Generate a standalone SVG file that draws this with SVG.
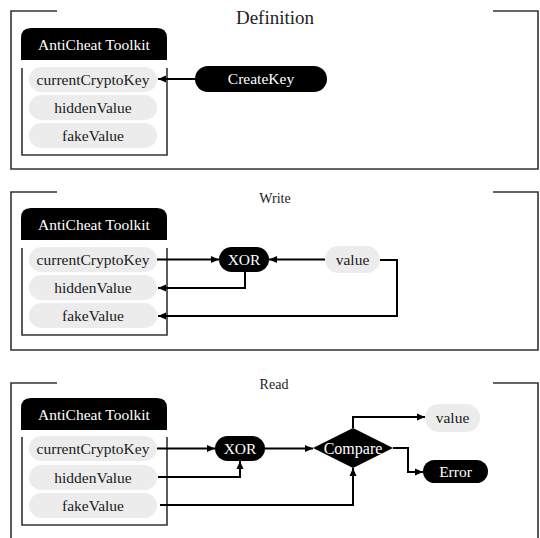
<svg xmlns="http://www.w3.org/2000/svg" width="540" height="538" viewBox="0 0 540 538" font-family="'Liberation Serif', 'Times New Roman', serif">
<defs>
<marker id="ah" markerUnits="userSpaceOnUse" markerWidth="9" markerHeight="9" refX="8" refY="4" orient="auto">
<path d="M0,0.5 L8,4 L0,7.5 z" fill="#000"/>
</marker>
<style>
.frame{fill:none;stroke:#333;stroke-width:1.6}
.bracket{fill:none;stroke:#333;stroke-width:1.6}
.hdr{fill:#000}
.pill{fill:#ececec}
.blk{fill:#000}
.lbl{font-family:'Liberation Serif','Times New Roman',serif;font-size:15.5px;text-anchor:middle;fill:#1a1a1a}
.w{fill:#fff}
.title{font-family:'Liberation Serif','Times New Roman',serif;text-anchor:middle;fill:#222}
.conn{fill:none;stroke:#000;stroke-width:2}
</style>
</defs>
<rect width="540" height="538" fill="#fff"/>

<!-- Section 1: Definition -->
<g id="frame-definition">
<path class="frame" d="M57,11 H11 V169 H538 V11 H493"/>
<text class="title" x="275" y="24" font-size="19">Definition</text>
</g>
<g id="toolkit1">
<path class="hdr" d="M21,60 V38 Q21,28 31,28 H157 Q167,28 167,38 V60 Z"/>
<text class="lbl w" x="94" y="49.5">AntiCheat Toolkit</text>
<path class="bracket" d="M22,68 V155 H167 V68"/>
</g>
<g id="d-currentCryptoKey"><rect class="pill" x="29" y="67" width="128" height="25" rx="12.5"/><text class="lbl" x="93" y="84.5">currentCryptoKey</text></g>
<g id="d-hiddenValue"><rect class="pill" x="29" y="95" width="128" height="25" rx="12.5"/><text class="lbl" x="93" y="112.5">hiddenValue</text></g>
<g id="d-fakeValue"><rect class="pill" x="29" y="123" width="128" height="25" rx="12.5"/><text class="lbl" x="93" y="140.5">fakeValue</text></g>
<g id="d-CreateKey"><rect class="blk" x="195" y="66" width="132" height="26" rx="13"/><text class="lbl w" x="261" y="84">CreateKey</text></g>

<!-- Section 2: Write -->
<g id="frame-write">
<path class="frame" d="M57,192 H11 V350 H538 V192 H493"/>
<text class="title" x="275" y="203" font-size="14">Write</text>
</g>
<g id="toolkit2">
<path class="hdr" d="M21,240 V218 Q21,208 31,208 H157 Q167,208 167,218 V240 Z"/>
<text class="lbl w" x="94" y="229.5">AntiCheat Toolkit</text>
<path class="bracket" d="M22,248 V335 H167 V248"/>
</g>
<g id="w-currentCryptoKey"><rect class="pill" x="29" y="247" width="128" height="25" rx="12.5"/><text class="lbl" x="93" y="264.5">currentCryptoKey</text></g>
<g id="w-hiddenValue"><rect class="pill" x="29" y="275" width="128" height="25" rx="12.5"/><text class="lbl" x="93" y="292.5">hiddenValue</text></g>
<g id="w-fakeValue"><rect class="pill" x="29" y="303" width="128" height="25" rx="12.5"/><text class="lbl" x="93" y="320.5">fakeValue</text></g>
<g id="w-XOR"><rect class="blk" x="219" y="247" width="50" height="25" rx="12.5"/><text class="lbl w" x="244" y="264.5">XOR</text></g>
<g id="w-value"><rect class="pill" x="325" y="246" width="55" height="27" rx="13.5"/><text class="lbl" x="352.5" y="264.5">value</text></g>

<!-- Section 3: Read -->
<g id="frame-read">
<path class="frame" d="M57,383 H11 V538"/>
<path class="frame" d="M538,538 V383 H493"/>
<text class="title" x="274" y="389" font-size="14">Read</text>
</g>
<g id="toolkit3">
<path class="hdr" d="M21,430 V408 Q21,398 31,398 H157 Q167,398 167,408 V430 Z"/>
<text class="lbl w" x="94" y="419.5">AntiCheat Toolkit</text>
<path class="bracket" d="M22,437 V525 H167 V437"/>
</g>
<g id="r-currentCryptoKey"><rect class="pill" x="29" y="436" width="128" height="25" rx="12.5"/><text class="lbl" x="93" y="453.5">currentCryptoKey</text></g>
<g id="r-hiddenValue"><rect class="pill" x="29" y="465" width="128" height="25" rx="12.5"/><text class="lbl" x="93" y="482.5">hiddenValue</text></g>
<g id="r-fakeValue"><rect class="pill" x="29" y="493" width="128" height="25" rx="12.5"/><text class="lbl" x="93" y="510.5">fakeValue</text></g>
<g id="r-XOR"><rect class="blk" x="215" y="436" width="50" height="25" rx="12.5"/><text class="lbl w" x="240" y="453.5">XOR</text></g>
<g id="r-Compare"><path class="blk" d="M313,448 L353,428 L393,448 L353,468 Z"/><text class="lbl w" x="353" y="454" style="font-size:16px">Compare</text></g>
<g id="r-value"><rect class="pill" x="425" y="404" width="55" height="28" rx="14"/><text class="lbl" x="452.5" y="423">value</text></g>
<g id="r-Error"><rect class="blk" x="423" y="460" width="65" height="23" rx="11.5"/><text class="lbl w" x="455.5" y="476.5">Error</text></g>

<!-- Connectors -->
<g id="connectors">
<path class="conn" d="M195,79 H158" marker-end="url(#ah)"/>
<path class="conn" d="M157,259.5 H219" marker-end="url(#ah)"/>
<path class="conn" d="M325,259.5 H269" marker-end="url(#ah)"/>
<path class="conn" d="M245,272 V288 H158" marker-end="url(#ah)"/>
<path class="conn" d="M380,260 H397 V316 H158" marker-end="url(#ah)"/>
<path class="conn" d="M157,448.5 H215" marker-end="url(#ah)"/>
<path class="conn" d="M265,448.5 H313" marker-end="url(#ah)"/>
<path class="conn" d="M158,477 H240 V461" marker-end="url(#ah)"/>
<path class="conn" d="M160,505 H353 V468" marker-end="url(#ah)"/>
<path class="conn" d="M353,428 V417 H425" marker-end="url(#ah)"/>
<path class="conn" d="M393,448 H408 V472 H423" marker-end="url(#ah)"/>
</g>
</svg>
